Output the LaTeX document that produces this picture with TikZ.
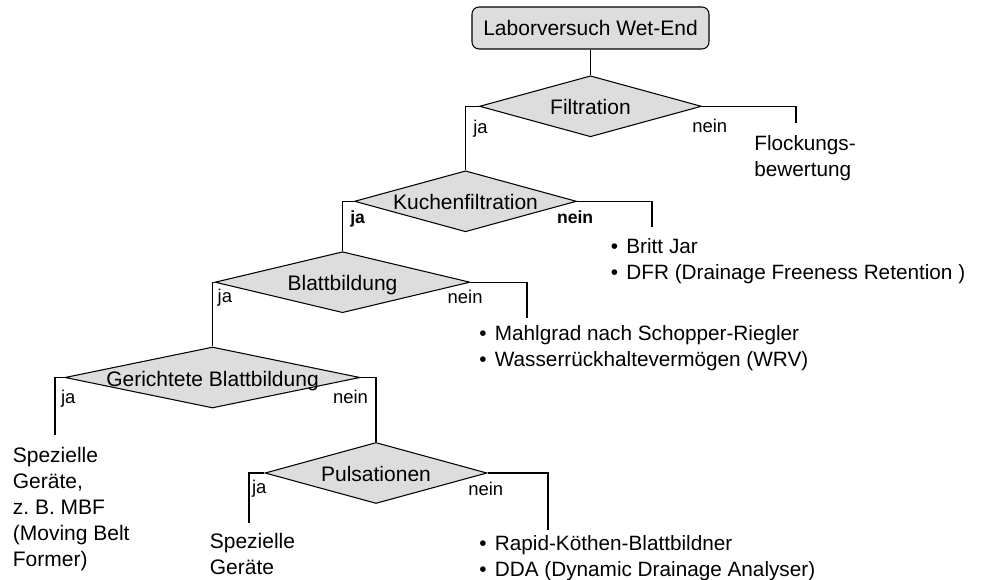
\documentclass[tikz,border=0pt]{standalone}
\usepackage{fontspec}
\setmainfont{Liberation Sans}
\usetikzlibrary{shapes.geometric}

\definecolor{kastengrau}{HTML}{DDDDDD}
\newcommand{\punkt}{\makebox[0.75em][l]{\textbullet}}

\tikzset{
    startkasten/.style={draw, fill=kastengrau, rounded corners=4pt, line width=0.6pt, inner sep=0pt},
    raute/.style={diamond, draw, fill=kastengrau, line width=0.6pt, inner sep=0pt},
    linie/.style={line width=0.6pt},
    jn/.style={anchor=base west, inner sep=0pt, font=\fontsize{10.5}{12}\selectfont},
    jnfett/.style={jn, font=\fontsize{10}{12}\selectfont\bfseries},
    liste/.style={anchor=north west, inner sep=0pt, align=left, font=\fontsize{11.8}{15.1}\selectfont},
    geraet/.style={anchor=north west, inner sep=0pt, align=left, font=\fontsize{11.95}{14.8}\selectfont},
    every label/.style={font=\fontsize{11.95}{14}\selectfont, text height=10.5pt, text depth=0.6pt}
}

\begin{document}
\begin{tikzpicture}[x=0.2mm, y=-0.2mm, font=\fontsize{11.95}{14}\selectfont]
    \useasboundingbox (0,0) rectangle (987,580);

    % 1. STARTKASTEN
    \node[startkasten, minimum width=47.4mm, minimum height=8.4mm] (labor) at (590.5,28) {Laborversuch Wet-End};

    % 2. ENTSCHEIDUNGEN (Rauten)
    \node[raute, minimum width=44.4mm, minimum height=12.2mm, label=center:Filtration] (filt) at (590.5,106.3) {};
    \node[raute, minimum width=44.4mm, minimum height=12.2mm, label=center:Kuchenfiltration] (kuch) at (465.5,201.3) {};
    \node[raute, minimum width=51mm, minimum height=12.2mm, label=center:Blattbildung] (blatt) at (342.5,282.2) {};
    \node[raute, minimum width=59mm, minimum height=12.2mm, label={center:Gerichtete Blattbildung}] (gericht) at (212.5,377.5) {};
    \node[raute, minimum width=44.4mm, minimum height=12.2mm, label=center:Pulsationen] (puls) at (376,473) {};

    % Enden der Zweige ohne weitere Raute
    \coordinate (filtende) at (796,123);
    \coordinate (kuchende) at (652,227);
    \coordinate (blattende) at (527,318);
    \coordinate (gerichtende) at (55,435);
    \coordinate (pulsjaende) at (249,523);
    \coordinate (pulsneinende) at (548,530);

    % 3. VERBINDUNGEN
    \draw[linie] (labor) -- (filt);
    \draw[linie] (filt.west) -| (kuch.north);
    \draw[linie] (filt.east) -| (filtende);
    \draw[linie] (kuch.west) -| (blatt.north);
    \draw[linie] (kuch.east) -| (kuchende);
    \draw[linie] (blatt.west) -| (gericht.north);
    \draw[linie] (blatt.east) -| (blattende);
    \draw[linie] (gericht.west) -| (gerichtende);
    \draw[linie] (gericht.east) -| (puls.north);
    \draw[linie] (puls.west) -| (pulsjaende);
    \draw[linie] (puls.east) -| (pulsneinende);

    % ja / nein
    \node[jn] (filtja) at (473,133.3) {ja};
    \node[jn] (filtnein) at (692,132.7) {nein};
    \node[jnfett] (kuchja) at (350,223.3) {ja};
    \node[jnfett] (kuchnein) at (556.7,223.3) {nein};
    \node[jn] (blattja) at (217.3,303) {ja};
    \node[jn] (blattnein) at (447.3,303.3) {nein};
    \node[jn] (gerichtja) at (60.7,404) {ja};
    \node[jn] (gerichtnein) at (332.7,404) {nein};
    \node[jn] (pulsja) at (251.7,494) {ja};
    \node[jn] (pulsnein) at (468,496) {nein};

    % 4. ERGEBNISSE
    \node[liste] (flock) at (754,135) {Flockungs-\\bewertung};
    \node[liste] (britt) at (610.5,237.7) {\punkt Britt Jar\\\punkt DFR (Drainage Freeness Retention )};
    \node[liste] (mahl) at (479,325) {\punkt Mahlgrad nach Schopper-Riegler\\\punkt Wasserrückhaltevermögen (WRV)};
    \node[liste] (rapid) at (479,535) {\punkt Rapid-Köthen-Blattbildner\\\punkt DDA (Dynamic Drainage Analyser)};
    \node[geraet] (mbf) at (12.5,446.7) {Spezielle\\Geräte,\\z.~B. MBF\\(Moving Belt\\Former)};
    \node[geraet] (spez) at (209.5,533) {Spezielle\\Geräte};
\end{tikzpicture}
\end{document}
